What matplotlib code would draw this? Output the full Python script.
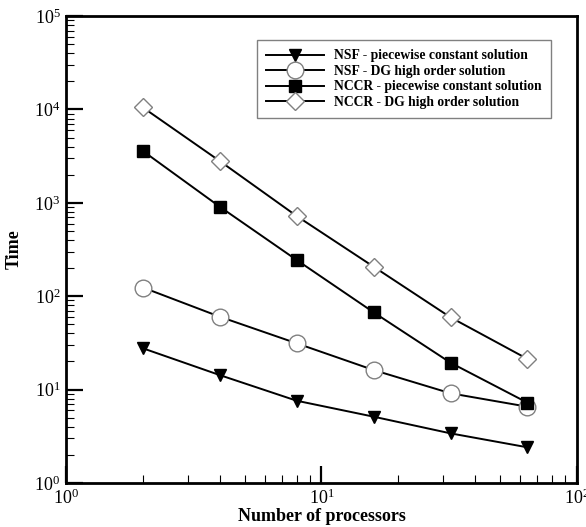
import matplotlib
matplotlib.use("Agg")
import matplotlib.pyplot as plt
from matplotlib.ticker import LogLocator, NullFormatter

plt.rcParams['font.family'] = ['Liberation Serif', 'DejaVu Serif']
plt.rcParams['mathtext.fontset'] = 'custom'
plt.rcParams['mathtext.rm'] = 'Liberation Serif'

# timings vs number of processors
procs = [2, 4, 8, 16, 32, 64]
nsf_pc = [27.7, 14.3, 7.6, 5.13, 3.40, 2.41]
nsf_dg = [124, 60.3, 31.3, 16.2, 9.13, 6.56]
nccr_pc = [3590, 908, 244, 67.2, 19.4, 7.24]
nccr_dg = [10500, 2800, 722, 207, 59.4, 21.3]

labels = ["NSF - piecewise constant solution",
          "NSF - DG high order solution",
          "NCCR - piecewise constant solution",
          "NCCR - DG high order solution"]

fig = plt.figure(figsize=(5.86, 5.27), dpi=100)
ax = fig.add_axes([0.1126, 0.0835, 0.872, 0.886])

ax.plot(procs, nsf_pc, color='black', lw=1.4, marker='v', ms=9,
        mfc='black', mec='black', label=labels[0])
ax.plot(procs, nsf_dg, color='black', lw=1.4, marker='o', ms=12,
        mfc='white', mec='#808080', mew=1.0, label=labels[1])
ax.plot(procs, nccr_pc, color='black', lw=1.4, marker='s', ms=9,
        mfc='black', mec='black', label=labels[2])
ax.plot(procs, nccr_dg, color='black', lw=1.4, marker='D', ms=9,
        mfc='white', mec='#808080', mew=1.0, label=labels[3])

ax.set_xscale('log')
ax.set_yscale('log')
ax.set_xlim(1, 100)
ax.set_ylim(1, 1e5)

ax.xaxis.set_major_locator(LogLocator(base=10, numticks=10))
ax.yaxis.set_major_locator(LogLocator(base=10, numticks=10))
ax.xaxis.set_minor_locator(LogLocator(base=10, subs=range(2, 10), numticks=20))
ax.yaxis.set_minor_locator(LogLocator(base=10, subs=range(2, 10), numticks=20))
ax.xaxis.set_minor_formatter(NullFormatter())
ax.yaxis.set_minor_formatter(NullFormatter())

ax.tick_params(which='both', direction='in', top=False, right=False,
               labelsize=13, pad=4)
ax.tick_params(which='major', length=12, width=1.6)
ax.tick_params(which='minor', length=6, width=0.8)
for sp in ax.spines.values():
    sp.set_linewidth(2)

ax.set_xlabel('Number of processors', fontsize=13, fontweight='bold', labelpad=0)
ax.set_ylabel('Time', fontsize=13, fontweight='bold', labelpad=8)

leg = ax.legend(loc='upper right', bbox_to_anchor=(0.949, 0.949),
                borderaxespad=0, fancybox=False, framealpha=1,
                edgecolor='#808080', handlelength=4.2, labelspacing=0.18,
                borderpad=0.7, handletextpad=0.75,
                prop={'family': 'Liberation Serif', 'weight': 'bold', 'size': 9.8})
leg.get_frame().set_linewidth(1.0)

fig.savefig('out.png', dpi=100)
